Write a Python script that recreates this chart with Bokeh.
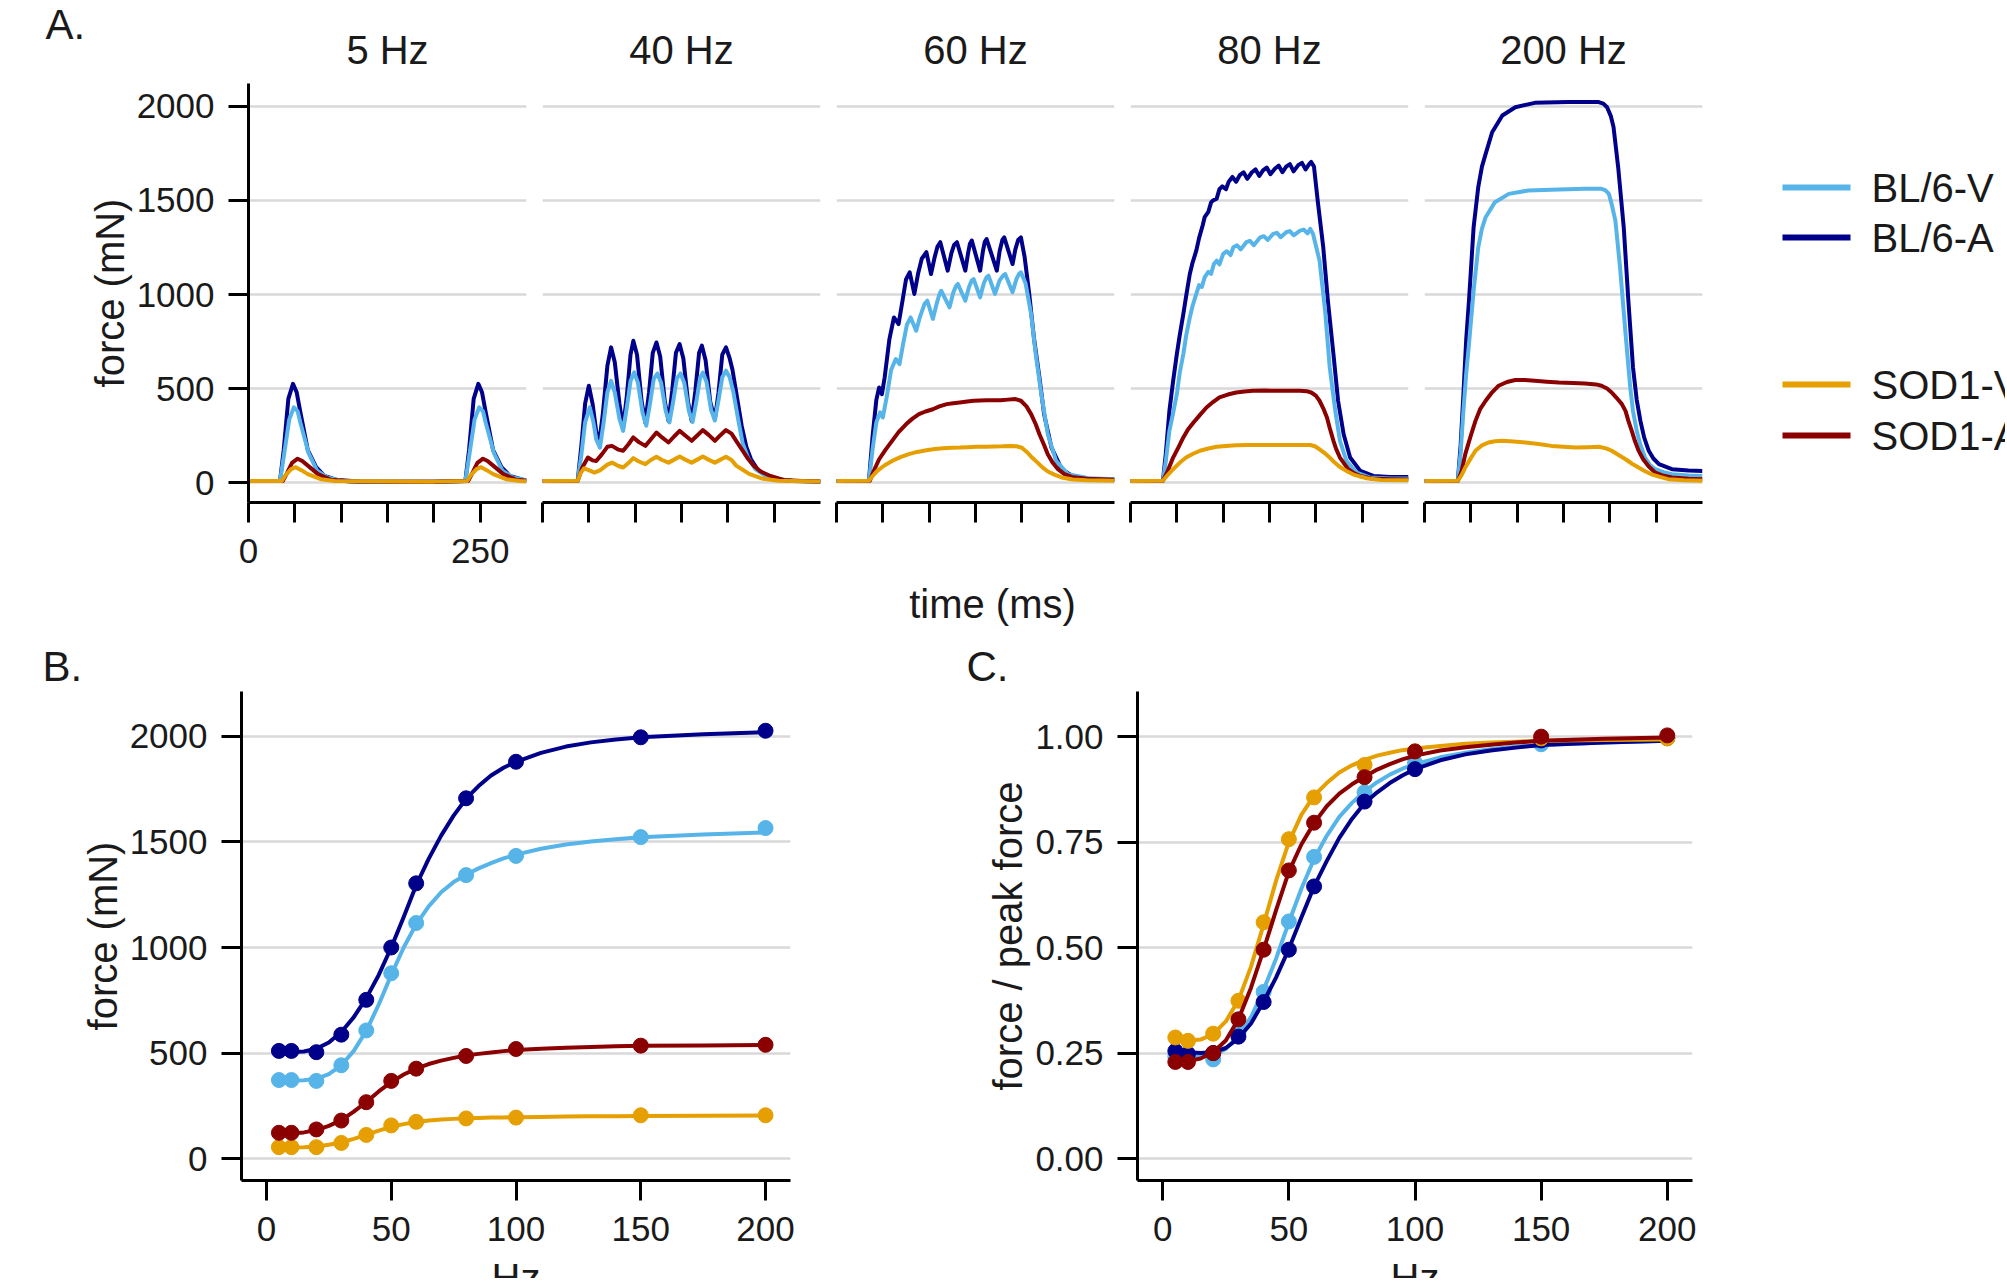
from bokeh.plotting import figure
from bokeh.models import Range1d, FixedTicker, Grid, PrintfTickFormatter
from bokeh.layouts import row, column
from bokeh.embed import file_html
from bokeh.resources import INLINE
from bokeh.core.properties import value

# ---------------- data ----------------
SERIES = ["BL/6-V", "BL/6-A", "SOD1-V", "SOD1-A"]
PANELS_A = ["5 Hz", "40 Hz", "60 Hz", "80 Hz", "200 Hz"]
A_XTICKS = [0, 50, 100, 150, 200, 250]
A_XLABELS = {0: "0", 250: "250"}
A_YTICKS = [0, 500, 1000, 1500, 2000]

# force traces: (time ms, force mN)
T5_BL6A = [(0,8),(34,8),(38,173),(43,445),(48,525),(52,480),(56,373),(64,173),(73,82),(82,36),(96,13),(120,6),(200,5),(234,8),(238,173),(243,445),(248,525),(252,480),(256,373),(264,173),(273,82),(282,36),(296,15),(300,13)]
T5_BL6V = [(0,8),(34,8),(38,136),(44,336),(49,400),(53,380),(56,318),(65,155),(74,64),(85,27),(100,10),(120,5),(200,5),(234,8),(238,136),(244,336),(249,400),(253,380),(256,318),(265,155),(274,64),(285,27),(300,12)]
T5_SOD1A = [(0,8),(37,8),(41,45),(47,105),(53,127),(58,115),(66,82),(75,45),(89,15),(110,6),(200,5),(237,8),(241,45),(247,105),(253,127),(258,115),(266,82),(275,45),(289,15),(300,10)]
T5_SOD1V = [(0,8),(36,8),(40,40),(46,72),(51,82),(57,66),(64,45),(78,18),(93,8),(200,5),(236,8),(240,40),(246,72),(251,82),(257,66),(264,45),(278,18),(293,8),(300,7)]

T40_BL6A = [(0,8),(38,10),(42,200),(46,420),(50,515),(54,420),(58,270),(61,204),(65,360),(70,620),(74,719),(78,640),(83,420),(87,293),(91,460),(95,680),(98,754),(102,680),(107,430),(111,319),(115,480),(119,690),(123,745),(127,670),(132,430),(136,328),(140,490),(144,690),(148,736),(152,660),(157,430),(161,328),(165,490),(169,690),(172,728),(176,650),(181,430),(186,337),(190,480),(194,680),(198,719),(202,660),(205,600),(210,450),(215,300),(220,190),(225,124),(232,70),(240,40),(252,18),(270,8),(300,5)]
T40_BL6V = [(0,8),(38,10),(42,150),(46,320),(51,400),(55,320),(58,230),(62,186),(66,320),(70,480),(74,541),(78,480),(83,340),(87,275),(91,400),(95,540),(99,586),(103,530),(108,370),(112,302),(116,420),(120,550),(124,580),(128,530),(133,380),(137,320),(141,430),(145,555),(149,580),(153,530),(158,380),(162,322),(166,430),(170,555),(173,585),(177,535),(182,385),(186,330),(190,440),(194,560),(198,595),(202,560),(206,480),(211,340),(216,210),(222,130),(230,70),(240,38),(252,20),(270,10),(300,6)]
T40_SOD1A = [(0,8),(38,10),(43,80),(49,133),(54,118),(58,115),(64,150),(70,190),(75,195),(82,175),(87,169),(93,205),(98,240),(104,215),(111,195),(117,230),(123,266),(129,240),(136,213),(142,245),(148,275),(154,250),(161,222),(167,250),(173,279),(179,255),(186,222),(192,252),(198,279),(204,260),(209,222),(216,170),(222,125),(228,90),(235,60),(246,35),(260,14),(280,8),(300,6)]
T40_SOD1V = [(0,8),(38,10),(41,50),(45,76),(50,66),(56,53),(62,65),(70,95),(75,106),(82,88),(87,80),(93,105),(98,130),(104,112),(111,98),(117,120),(123,137),(129,120),(136,106),(142,122),(148,138),(154,122),(161,106),(167,122),(173,138),(179,122),(186,106),(192,122),(198,137),(204,120),(209,90),(216,68),(223,46),(238,20),(255,10),(300,6)]

T60_BL6A = [(0,8),(35,10),(39,250),(43,440),(46,506),(49,470),(52,560),(57,760),(62,878),(67,843),(71,960),(75,1080),(79,1118),(84,1003),(88,1110),(92,1190),(97,1225),(102,1109),(106,1200),(109,1255),(112,1278),(120,1127),(124,1220),(127,1265),(130,1278),(139,1127),(142,1220),(144,1270),(146,1287),(155,1127),(158,1230),(160,1280),(162,1295),(173,1127),(176,1230),(179,1290),(181,1304),(190,1162),(193,1240),(196,1290),(199,1304),(203,1200),(208,1003),(213,772),(219,559),(224,364),(232,186),(243,71),(257,27),(279,18),(300,16)]
T60_BL6V = [(0,8),(35,10),(39,180),(43,320),(47,373),(50,346),(54,450),(59,600),(64,657),(68,630),(72,740),(76,840),(80,878),(86,807),(90,880),(95,950),(98,967),(104,870),(108,950),(111,1000),(113,1020),(122,932),(126,1010),(129,1045),(131,1056),(139,967),(143,1040),(146,1075),(148,1082),(155,985),(159,1060),(162,1092),(164,1100),(171,1003),(176,1075),(180,1102),(182,1109),(190,1012),(194,1080),(197,1110),(199,1118),(204,1060),(210,896),(215,683),(221,470),(228,257),(237,115),(250,44),(272,23),(300,18)]
T60_SOD1A = [(0,8),(36,10),(40,60),(46,124),(53,175),(60,222),(67,268),(75,310),(82,340),(89,364),(96,378),(104,390),(111,405),(119,417),(126,422),(133,426),(141,431),(148,435),(155,437),(162,438),(170,438),(177,438),(185,441),(193,444),(199,435),(205,405),(210,364),(215,310),(219,257),(224,200),(228,151),(233,108),(239,71),(246,45),(254,30),(270,20),(300,15)]
T60_SOD1V = [(0,8),(35,10),(39,35),(44,62),(52,92),(60,115),(69,135),(78,151),(87,163),(97,172),(106,178),(115,183),(124,185),(133,186),(142,188),(151,190),(161,191),(170,192),(179,193),(188,195),(194,193),(200,185),(206,160),(211,133),(217,106),(222,82),(228,59),(235,42),(243,27),(255,16),(270,12),(300,10)]

T80_BL6A = [(0,8),(35,10),(38,150),(42,382),(46,540),(50,683),(53,780),(57,896),(60,990),(64,1109),(67,1170),(71,1233),(74,1300),(78,1370),(80,1411),(84,1440),(87,1490),(89,1500),(93,1510),(96,1560),(99,1575),(103,1560),(106,1600),(110,1625),(114,1600),(118,1635),(122,1650),(126,1615),(131,1650),(135,1665),(139,1630),(143,1660),(147,1675),(151,1640),(156,1670),(160,1685),(164,1650),(168,1680),(172,1693),(176,1655),(181,1688),(185,1700),(189,1665),(193,1695),(195,1705),(198,1680),(202,1500),(208,1251),(213,967),(219,683),(224,435),(230,257),(237,133),(248,62),(262,35),(280,30),(300,30)]
T80_BL6V = [(0,8),(35,10),(38,110),(42,275),(46,370),(50,470),(53,580),(57,683),(60,780),(64,878),(67,940),(71,1003),(74,1050),(77,1040),(80,1091),(84,1120),(87,1110),(90,1162),(93,1180),(96,1160),(100,1216),(104,1230),(108,1210),(111,1251),(115,1262),(119,1240),(125,1278),(129,1285),(133,1262),(140,1304),(144,1310),(148,1290),(154,1322),(158,1328),(162,1305),(168,1331),(172,1337),(176,1315),(183,1340),(187,1345),(191,1325),(194,1349),(197,1322),(204,1180),(210,914),(215,612),(221,381),(226,222),(233,115),(244,53),(258,27),(280,22),(300,22)]
T80_SOD1A = [(0,8),(35,10),(40,60),(46,133),(52,190),(57,240),(62,282),(68,319),(75,360),(82,399),(89,428),(96,453),(105,468),(114,479),(123,484),(132,488),(145,489),(158,488),(170,488),(183,488),(190,486),(195,479),(200,462),(204,435),(208,395),(212,346),(215,290),(219,222),(222,178),(226,133),(231,98),(235,71),(241,50),(248,35),(260,22),(280,18),(300,16)]
T80_SOD1V = [(0,8),(35,10),(40,40),(46,71),(53,105),(60,133),(67,152),(75,169),(84,181),(93,190),(103,195),(114,199),(127,200),(140,200),(154,200),(168,200),(182,200),(194,200),(199,193),(204,177),(210,155),(215,133),(220,108),(226,83),(233,62),(240,44),(248,32),(255,23),(270,14),(300,12)]

T200_BL6A = [(0,8),(36,10),(39,200),(42,470),(45,760),(48,967),(53,1358),(58,1571),(62,1680),(66,1748),(73,1863),(84,1952),(98,1996),(119,2019),(155,2023),(188,2023),(193,2015),(197,1996),(201,1950),(204,1890),(209,1677),(215,1358),(220,967),(225,612),(229,440),(233,328),(237,240),(242,169),(247,128),(253,98),(267,71),(285,64),(300,62)]
T200_BL6V = [(0,8),(36,10),(39,160),(42,382),(45,580),(48,736),(53,1020),(58,1251),(62,1350),(66,1411),(76,1491),(91,1535),(112,1553),(145,1558),(173,1562),(191,1562),(195,1555),(199,1535),(202,1480),(206,1393),(211,1145),(217,790),(222,506),(225,380),(229,275),(233,200),(238,133),(243,95),(249,71),(258,55),(267,44),(285,38),(300,35)]
T200_SOD1A = [(0,8),(36,10),(40,60),(44,151),(50,250),(55,328),(60,390),(66,435),(73,480),(80,515),(89,535),(98,545),(108,545),(119,541),(132,536),(145,532),(160,530),(173,527),(185,522),(191,515),(197,500),(202,479),(207,452),(213,417),(217,380),(220,328),(224,270),(227,222),(231,170),(236,124),(242,85),(249,53),(258,36),(267,27),(285,20),(300,18)]
T200_SOD1V = [(0,8),(36,10),(40,40),(44,80),(50,130),(55,169),(62,198),(69,213),(76,220),(84,222),(96,218),(109,213),(123,205),(137,195),(150,190),(163,186),(176,188),(188,190),(196,182),(202,169),(209,148),(217,124),(224,100),(231,80),(238,60),(245,44),(254,30),(263,18),(280,12),(300,9)]

# panels B / C: stimulation frequency (Hz)
HZ = [5, 10, 20, 30, 40, 50, 60, 80, 100, 150, 200]
B_BL6V = [372, 372, 368, 442, 607, 878, 1116, 1343, 1434, 1523, 1566]
B_BL6A = [510, 510, 504, 587, 752, 1000, 1304, 1707, 1880, 1996, 2027]
B_SOD1V = [54, 54, 54, 74, 112, 157, 174, 190, 194, 205, 205]
B_SOD1A = [122, 122, 138, 180, 267, 368, 426, 486, 519, 535, 539]

C_BL6V = [0.242, 0.242, 0.235, 0.298, 0.395, 0.562, 0.715, 0.868, 0.938, 0.982, 0.996]
C_BL6A = [0.255, 0.248, 0.250, 0.289, 0.371, 0.495, 0.645, 0.846, 0.923, 0.991, 0.997]
C_SOD1V = [0.287, 0.279, 0.296, 0.374, 0.560, 0.757, 0.856, 0.933, 0.965, 0.996, 0.996]
C_SOD1A = [0.229, 0.229, 0.250, 0.330, 0.495, 0.683, 0.796, 0.904, 0.965, 1.000, 1.003]

# fitted curves, read at these frequencies
FIT_HZ = [5, 10, 15, 20, 25, 30, 35, 40, 45, 50, 55, 60, 65, 70, 75, 80, 85, 90, 95, 100, 110, 120, 130, 140, 150, 175, 200]
BFIT_BL6V = [370, 370, 371, 378, 400, 442, 510, 605, 730, 870, 1000, 1110, 1195, 1262, 1310, 1345, 1375, 1400, 1422, 1440, 1468, 1488, 1502, 1513, 1522, 1536, 1545]
BFIT_BL6A = [505, 505, 507, 520, 550, 600, 670, 760, 870, 1000, 1145, 1295, 1420, 1530, 1625, 1705, 1765, 1815, 1852, 1880, 1922, 1952, 1972, 1986, 1996, 2010, 2020]
BFIT_SOD1V = [52, 52, 53, 57, 65, 77, 93, 112, 132, 150, 163, 173, 180, 185, 188, 191, 192, 194, 195, 196, 197, 199, 200, 201, 202, 203, 204]
BFIT_SOD1A = [120, 120, 124, 135, 155, 182, 222, 268, 318, 362, 398, 426, 448, 464, 477, 488, 496, 503, 509, 514, 520, 525, 529, 532, 534, 536, 538]

CFIT_BL6V = [0.244, 0.243, 0.242, 0.245, 0.26, 0.29, 0.335, 0.40, 0.475, 0.56, 0.64, 0.71, 0.765, 0.81, 0.843, 0.87, 0.892, 0.91, 0.924, 0.935, 0.951, 0.962, 0.970, 0.976, 0.980, 0.986, 0.99]
CFIT_BL6A = [0.255, 0.252, 0.25, 0.252, 0.262, 0.285, 0.32, 0.372, 0.43, 0.497, 0.572, 0.645, 0.705, 0.76, 0.805, 0.842, 0.868, 0.89, 0.908, 0.923, 0.944, 0.958, 0.967, 0.974, 0.98, 0.986, 0.99]
CFIT_SOD1V = [0.283, 0.279, 0.282, 0.295, 0.325, 0.375, 0.455, 0.555, 0.66, 0.75, 0.815, 0.86, 0.89, 0.915, 0.932, 0.945, 0.955, 0.962, 0.968, 0.972, 0.978, 0.983, 0.986, 0.988, 0.99, 0.992, 0.993]
CFIT_SOD1A = [0.230, 0.231, 0.237, 0.252, 0.28, 0.33, 0.405, 0.495, 0.59, 0.68, 0.745, 0.795, 0.835, 0.865, 0.887, 0.905, 0.922, 0.935, 0.946, 0.955, 0.967, 0.975, 0.981, 0.986, 0.99, 0.995, 0.998]

BC_XTICKS = [0, 50, 100, 150, 200]
B_YTICKS = [0, 500, 1000, 1500, 2000]
C_YTICKS = [0, 0.25, 0.5, 0.75, 1.0]

# ---------------- styles / layout ----------------
FONT = "Liberation Sans"
COLORS = {"BL/6-V": "#56B4E9", "BL/6-A": "#00008B", "SOD1-V": "#E69F00", "SOD1-A": "#8B0000"}
TXT = "#1a1a1a"
GRID = "#d9d9d9"
W = 2005
TOP_H, A_H, MID_H, BC_H, BOT_H = 75, 504, 112, 567, 20
A_TOP, A_BOTTOM = 8, 77          # borders around the A frames (frame height 419)
A_FRAME_W = 278
A_FRAME_LEFT = [248, 542, 836, 1130, 1424]
B_FRAME = (241, 790)
C_FRAME = (1137, 1692)

TRACES = {
    "5 Hz": {"BL/6-V": T5_BL6V, "BL/6-A": T5_BL6A, "SOD1-V": T5_SOD1V, "SOD1-A": T5_SOD1A},
    "40 Hz": {"BL/6-V": T40_BL6V, "BL/6-A": T40_BL6A, "SOD1-V": T40_SOD1V, "SOD1-A": T40_SOD1A},
    "60 Hz": {"BL/6-V": T60_BL6V, "BL/6-A": T60_BL6A, "SOD1-V": T60_SOD1V, "SOD1-A": T60_SOD1A},
    "80 Hz": {"BL/6-V": T80_BL6V, "BL/6-A": T80_BL6A, "SOD1-V": T80_SOD1V, "SOD1-A": T80_SOD1A},
    "200 Hz": {"BL/6-V": T200_BL6V, "BL/6-A": T200_BL6A, "SOD1-V": T200_SOD1V, "SOD1-A": T200_SOD1A},
}
B_PTS = {"BL/6-V": B_BL6V, "BL/6-A": B_BL6A, "SOD1-V": B_SOD1V, "SOD1-A": B_SOD1A}
B_FIT = {"BL/6-V": BFIT_BL6V, "BL/6-A": BFIT_BL6A, "SOD1-V": BFIT_SOD1V, "SOD1-A": BFIT_SOD1A}
C_PTS = {"BL/6-V": C_BL6V, "BL/6-A": C_BL6A, "SOD1-V": C_SOD1V, "SOD1-A": C_SOD1A}
C_FIT = {"BL/6-V": CFIT_BL6V, "BL/6-A": CFIT_BL6A, "SOD1-V": CFIT_SOD1V, "SOD1-A": CFIT_SOD1A}


def style_axis(ax, label_standoff):
    ax.axis_line_color = "black"
    ax.axis_line_width = 3
    ax.major_tick_line_color = "black"
    ax.major_tick_line_width = 3
    ax.major_tick_in = 0
    ax.major_tick_out = 20
    ax.minor_tick_line_color = None
    ax.major_label_text_font = FONT
    ax.major_label_text_font_size = "35px"
    ax.major_label_text_color = TXT
    ax.major_label_standoff = label_standoff
    ax.axis_label_text_font = FONT
    ax.axis_label_text_font_size = "40px"
    ax.axis_label_text_font_style = "normal"
    ax.axis_label_text_color = TXT
    ax.axis_label_standoff = 2


def add_hgrid(p, ticks):
    p.grid.visible = False
    p.add_layout(Grid(dimension=1, ticker=FixedTicker(ticks=ticks),
                      grid_line_color=GRID, grid_line_width=2.5))


def strip(width, height, top=0, bottom=0):
    """A blank text strip in pixel coordinates (y down) over its frame."""
    s = figure(width=width, height=height, x_range=Range1d(0, width),
               y_range=Range1d(height - bottom, top),
               x_axis_location=None, y_axis_location=None, min_border=0,
               min_border_top=top, min_border_bottom=bottom, title=None,
               output_backend="svg", toolbar_location=None, tools="")
    s.outline_line_color = None
    s.xgrid.visible = False
    s.ygrid.visible = False
    return s


def put_text(s, xs, ys, texts, size, align="center", baseline="middle"):
    s.text(x=xs, y=ys, text=texts, text_font=value(FONT), text_font_size=size,
           text_color=TXT, text_align=align, text_baseline=baseline)


# ---------------- top strip: panel letter + facet titles ----------------
top = strip(W, TOP_H)
put_text(top, [45], [24], ["A."], "42px", align="left")
put_text(top, [l + A_FRAME_W / 2 for l in A_FRAME_LEFT], [49] * 5, PANELS_A, "40px")

# ---------------- panel A ----------------
draw_order = ["BL/6-A", "BL/6-V", "SOD1-A", "SOD1-V"]
a_figs = []
prev_right = 0
for i, panel in enumerate(PANELS_A):
    bl = A_FRAME_LEFT[i] - prev_right
    w = bl + A_FRAME_W + 8
    prev_right += w
    p = figure(width=w, height=A_H, x_range=Range1d(0, 300), y_range=Range1d(-106, 2122),
               min_border_left=bl, min_border_right=8, min_border_top=A_TOP, min_border_bottom=A_BOTTOM,
               y_axis_location="left" if i == 0 else None, title=None,
               output_backend="svg", toolbar_location=None, tools="")
    p.outline_line_color = None
    add_hgrid(p, A_YTICKS)
    xa = p.xaxis[0]
    style_axis(xa, 16)
    xa.ticker = FixedTicker(ticks=A_XTICKS)
    xa.major_label_overrides = {t: (A_XLABELS.get(t, "") if i == 0 else "") for t in A_XTICKS}
    if i == 0:
        ya = p.yaxis[0]
        style_axis(ya, 14)
        ya.ticker = FixedTicker(ticks=A_YTICKS)
        ya.axis_label = "force (mN)"
    for s in draw_order:
        pts = TRACES[panel][s]
        p.line([q[0] for q in pts], [q[1] for q in pts], line_color=COLORS[s],
               line_width=4, line_join="round")
    a_figs.append(p)

# legend (two groups, as in the reference); same borders as the A panels
leg_w = W - prev_right
pl = strip(leg_w, A_H, top=A_TOP, bottom=A_BOTTOM)
leg_y = [112, 162, 309, 360]
pl.segment(x0=[72] * 4, y0=leg_y, x1=[140] * 4, y1=leg_y,
           line_color=[COLORS[s] for s in SERIES], line_width=6)
put_text(pl, [161] * 4, leg_y, SERIES, "40px", align="left")

# ---------------- middle strip: shared x title of A, letters B / C ----------------
mid = strip(W, MID_H)
put_text(mid, [992], [24], ["time (ms)"], "40px")
put_text(mid, [42, 966], [87, 87], ["B.", "C."], "42px", align="left")

# ---------------- panels B and C ----------------
bc_order = ["BL/6-V", "BL/6-A", "SOD1-V", "SOD1-A"]


def bc_fig(width, bl, br, yr, yticks, pts, fit, ylabel, fmt=None):
    p = figure(width=width, height=BC_H, x_range=Range1d(-10, 210), y_range=Range1d(*yr),
               min_border_left=bl, min_border_right=br, min_border_top=0, min_border_bottom=78,
               title=None, output_backend="svg", toolbar_location=None, tools="")
    p.outline_line_color = None
    add_hgrid(p, yticks)
    xa = p.xaxis[0]
    style_axis(xa, 16)
    xa.ticker = FixedTicker(ticks=BC_XTICKS)
    ya = p.yaxis[0]
    style_axis(ya, 14)
    ya.ticker = FixedTicker(ticks=yticks)
    ya.axis_label = ylabel
    if fmt:
        ya.formatter = PrintfTickFormatter(format=fmt)
    for s in bc_order:
        p.line(FIT_HZ, fit[s], line_color=COLORS[s], line_width=4, line_join="round")
        p.scatter(HZ, pts[s], size=15, fill_color=COLORS[s], line_color=COLORS[s])
    return p


b_w = B_FRAME[1] + 100
pB = bc_fig(b_w, B_FRAME[0], 100, (-104, 2213), B_YTICKS, B_PTS, B_FIT, "force (mN)")
pC = bc_fig(W - b_w, C_FRAME[0] - b_w, W - C_FRAME[1], (-0.052, 1.107), C_YTICKS, C_PTS, C_FIT,
            "force / peak force", fmt="%.2f")

# ---------------- bottom strip: x titles of B / C ----------------
bot = strip(W, BOT_H)
put_text(bot, [sum(B_FRAME) / 2, sum(C_FRAME) / 2], [19, 19], ["Hz", "Hz"], "40px")

layout = column(top, row(*a_figs, pl), mid, row(pB, pC), bot)
open("out.html", "w").write(file_html(layout, INLINE))
